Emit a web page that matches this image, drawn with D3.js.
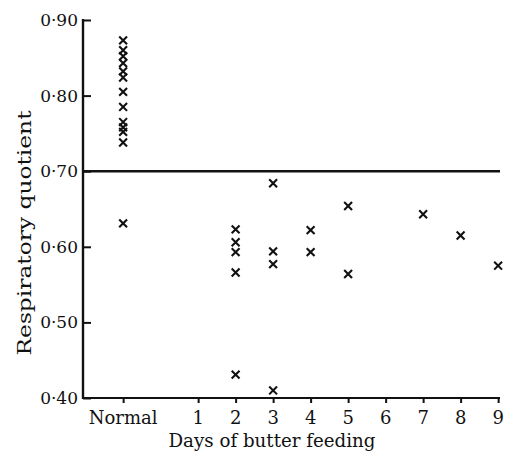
<!DOCTYPE html>
<html><head><meta charset="utf-8">
<script src="https://cdn.jsdelivr.net/npm/d3@7"></script>
<style>body{margin:0;background:#fff}svg{display:block}text{font-family:"DejaVu Serif","Liberation Serif",serif;fill:#111}</style>
</head><body><svg id="c" width="507" height="455"></svg>
<script>
// x position: "Normal" plotted at day -1
const xTickValues = [-1, 1, 2, 3, 4, 5, 6, 7, 8, 9];
const xTickLabels = ["Normal", "1", "2", "3", "4", "5", "6", "7", "8", "9"];
const yTickValues = [0.40, 0.50, 0.60, 0.70, 0.80, 0.90];
const yTickLabels = ["0·40", "0·50", "0·60", "0·70", "0·80", "0·90"];
const pointDays = [-1,-1,-1,-1,-1,-1,-1,-1,-1,-1,-1,-1,-1,
  2,2,2,2,2, 3,3,3,3, 4,4, 5,5, 7, 8, 9];
const pointRQ = [0.873,0.860,0.852,0.843,0.832,0.824,0.805,0.785,0.765,0.758,0.752,0.738,0.631,
  0.623,0.606,0.593,0.566,0.431, 0.684,0.594,0.577,0.410, 0.622,0.593, 0.654,0.564, 0.643, 0.615, 0.575];
const referenceRQ = 0.70;

const svg = d3.select("#c");
const x = d3.scaleLinear().domain([-2.07, 9.05]).range([83, 500]);
const y = d3.scaleLinear().domain([0.40, 0.90]).range([398, 20]);

// axes
svg.append("line").attr("x1", 83).attr("x2", 83).attr("y1", y(0.90)-1).attr("y2", y(0.40)+1)
  .attr("stroke", "#111").attr("stroke-width", 2.4);
svg.append("line").attr("x1", 82).attr("x2", x(9.05)).attr("y1", y(0.40)).attr("y2", y(0.40))
  .attr("stroke", "#111").attr("stroke-width", 2.2);

const yAxis = d3.axisRight(y).tickValues(yTickValues).tickSize(8).tickFormat(() => "");
const gy = svg.append("g").attr("transform", "translate(83,0)").call(yAxis);
gy.select(".domain").remove();
gy.selectAll(".tick line").attr("stroke", "#111").attr("stroke-width", 2);
yTickValues.forEach((v,i) => {
  svg.append("text").attr("x", 78).attr("y", y(v) + 6).attr("text-anchor", "end")
    .attr("font-size", 17).text(yTickLabels[i]);
});

const xAxis = d3.axisBottom(x).tickValues(xTickValues).tickSize(5).tickFormat(() => "");
const gx = svg.append("g").attr("transform", `translate(0,${y(0.40)})`).call(xAxis);
gx.select(".domain").remove();
gx.selectAll(".tick line").attr("stroke", "#111").attr("stroke-width", 2);
xTickValues.forEach((v,i) => {
  svg.append("text").attr("x", x(v)).attr("y", 424).attr("text-anchor", "middle")
    .attr("font-size", 18).text(xTickLabels[i]);
});

// reference line
svg.append("line").attr("x1", 83).attr("x2", x(9.05)).attr("y1", y(referenceRQ)).attr("y2", y(referenceRQ))
  .attr("stroke", "#111").attr("stroke-width", 2.6);

// points
const sym = d3.symbol().type(d3.symbolTimes).size(42);
svg.append("g").selectAll("path").data(pointDays).join("path")
  .attr("transform", (d,i) => `translate(${x(d)},${y(pointRQ[i])})`)
  .attr("d", sym).attr("fill", "none").attr("stroke", "#111").attr("stroke-width", 2.1);

// labels
svg.append("text").attr("x", 272).attr("y", 447).attr("text-anchor", "middle")
  .attr("font-size", 19).attr("textLength", 207).attr("lengthAdjust", "spacingAndGlyphs")
  .text("Days of butter feeding");
svg.append("text").attr("transform", "translate(31,233) rotate(-90)").attr("text-anchor", "middle")
  .attr("font-size", 19).attr("textLength", 245).attr("lengthAdjust", "spacingAndGlyphs")
  .text("Respiratory quotient");
</script></body></html>
